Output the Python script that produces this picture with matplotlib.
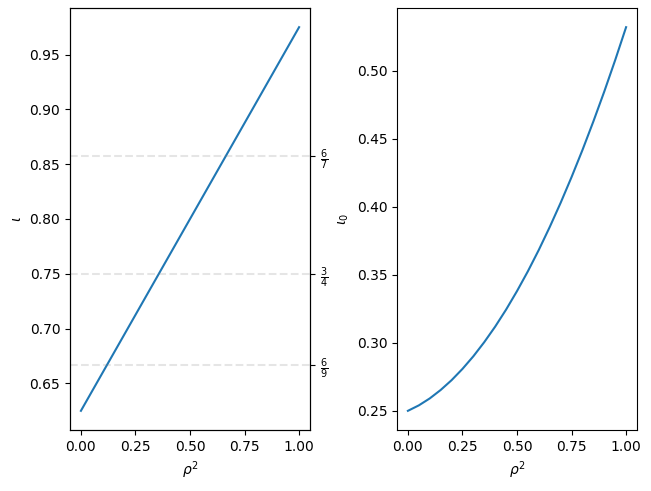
import numpy as np
import matplotlib
matplotlib.use("Agg")
import matplotlib.pyplot as plt

# ================= DATA =================
rho2_line = [0.0, 1.0]
iota = [0.625, 0.975]

# rational surfaces marked on the left panel
res_num = [6, 3, 6]
res_den = [7, 4, 9]

rho2 = [0.00, 0.05, 0.10, 0.15, 0.20, 0.25, 0.30, 0.35, 0.40, 0.45, 0.50,
        0.55, 0.60, 0.65, 0.70, 0.75, 0.80, 0.85, 0.90, 0.95, 1.00]
iota0 = [0.2500, 0.2540, 0.2591, 0.2653, 0.2725, 0.2808, 0.2901, 0.3005,
         0.3119, 0.3244, 0.3380, 0.3526, 0.3683, 0.3851, 0.4029, 0.4218,
         0.4417, 0.4627, 0.4847, 0.5078, 0.5320]
# =========================================

W, H = 651, 491
fig, (ax1, ax3) = plt.subplots(1, 2, figsize=(W / 100, H / 100), dpi=100)
fig.subplots_adjust(left=70 / W, right=637 / W, top=1 - 8 / H,
                    bottom=1 - 430 / H, wspace=87 / 240)

ax1.plot(rho2_line, iota)
res_vals = [n / d for n, d in zip(res_num, res_den)]
for v in res_vals:
    ax1.axhline(v, ls="--", color="0.5", alpha=0.2)
ax1.set_xlabel(r"$\rho^2$")
ax1.set_ylabel(r"$\iota$")

ax2 = ax1.twinx()
ax2.set_ylim(ax1.get_ylim())
ax2.set_yticks(res_vals,
               labels=[rf"$\frac{{{n}}}{{{d}}}$" for n, d in zip(res_num, res_den)])

ax3.plot(rho2, iota0)
ax3.set_xlabel(r"$\rho^2$")
ax3.set_ylabel(r"$\iota_0$")

fig.savefig("out.png", dpi=100)
